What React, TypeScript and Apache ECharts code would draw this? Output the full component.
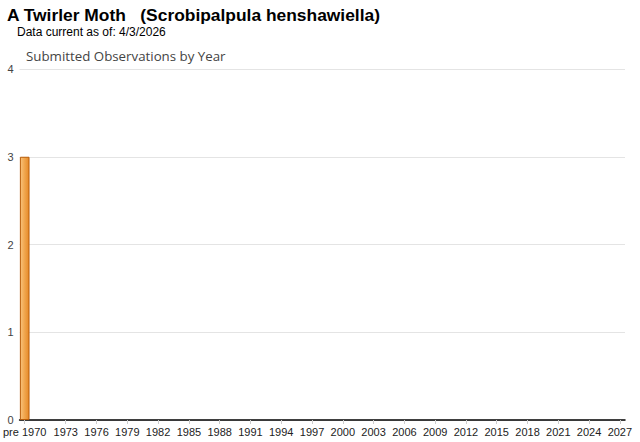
import React, { useEffect, useRef } from "react";
import * as echarts from "echarts";

const years: string[] = ["pre 1970"];
for (let y = 1970; y <= 2027; y++) years.push(String(y));
const counts: number[] = years.map((c) => (c === "pre 1970" ? 3 : 0));
const yTicks = [0, 1, 2, 3, 4];

export default function App() {
  const ref = useRef<HTMLDivElement>(null);
  useEffect(() => {
    if (!ref.current) return;
    const chart = echarts.init(ref.current, undefined, { renderer: "svg" });
    const showLabel = (i: number) => i === 0 || (i > 1 && i % 3 === 1);
    chart.setOption({
      animation: false,
      backgroundColor: "#ffffff",
      title: [
        {
          text: "A Twirler Moth   (Scrobipalpula henshawiella)",
          left: 7,
          top: 6,
          padding: 0,
          textStyle: { fontFamily: "Liberation Sans, Arial", fontSize: 17.4, fontWeight: "bold", color: "#000" },
        },
        {
          text: "Data current as of: 4/3/2026",
          left: 17,
          top: 26,
          padding: 0,
          textStyle: { fontFamily: "Liberation Sans, Arial", fontSize: 12, fontWeight: "normal", color: "#000" },
        },
        {
          text: "Submitted Observations by Year",
          left: 26,
          top: 49,
          padding: 0,
          textStyle: { fontFamily: "Open Sans, Noto Sans", fontSize: 13.3, fontWeight: "normal", color: "#444" },
        },
      ],
      grid: { left: 18, right: 15, top: 69, bottom: 22, containLabel: false },
      xAxis: {
        type: "category",
        data: years,
        axisLine: { lineStyle: { color: "#000", width: 1.5 } },
        axisTick: { show: true, alignWithLabel: true, interval: (i: number) => showLabel(i), length: 4, lineStyle: { color: "#ccc" } },
        axisLabel: {
          interval: (i: number) => showLabel(i),
          fontFamily: "Liberation Sans, Arial",
          fontSize: 11,
          color: "#222",
          margin: 6,
        },
      },
      yAxis: {
        type: "value",
        min: 0,
        max: yTicks[yTicks.length - 1],
        interval: 1,
        axisLine: { show: false },
        axisTick: { show: false },
        splitLine: { lineStyle: { color: "#e4e4e4" } },
        axisLabel: { fontFamily: "Liberation Sans, Arial", fontSize: 11, color: "#444", margin: 6 },
      },
      series: [
        {
          type: "bar",
          data: counts.map((v) => (v > 0 ? v : { value: v, itemStyle: { borderWidth: 0, opacity: 0 } })),
          barCategoryGap: "6%",
          z: 1,
          itemStyle: {
            color: new echarts.graphic.LinearGradient(0, 0, 1, 0, [
              { offset: 0, color: "#f8c27c" },
              { offset: 0.5, color: "#f0a54c" },
              { offset: 1, color: "#e68a2a" },
            ]),
            borderColor: "#b85c08",
            borderWidth: 1,
          },
        },
      ],
    });
    return () => chart.dispose();
  }, []);
  return <div ref={ref} style={{ width: 640, height: 442, position: "absolute", left: 0, top: 0 }} />;
}
